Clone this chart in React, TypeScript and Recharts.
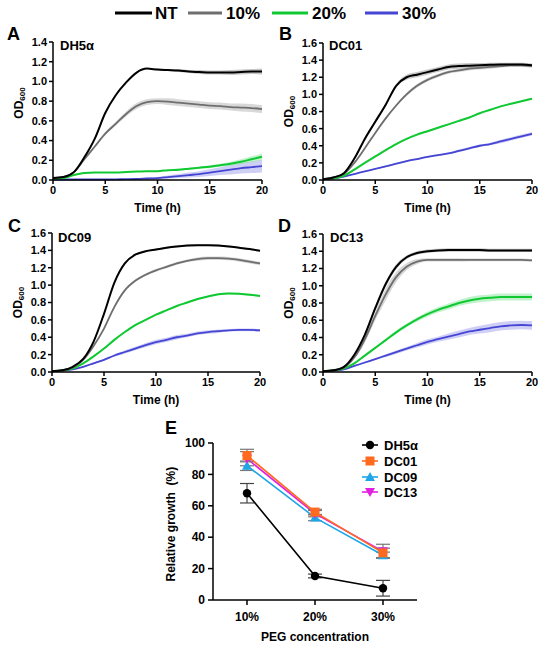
import React from 'react';
import { ComposedChart, LineChart, Line, Area, XAxis, YAxis, ErrorBar } from 'recharts';

const FONT = 'Arial, "Liberation Sans", Helvetica, sans-serif';

const TIME = [0, 1, 2, 3, 4, 5, 6, 7, 8, 9, 10, 11, 12, 13, 14, 15, 16, 17, 18, 19, 20];
const TIME_TICKS = [0, 5, 10, 15, 20];
const OD_TICKS_14 = [0, 0.2, 0.4, 0.6, 0.8, 1.0, 1.2, 1.4];
const OD_TICKS_16 = [0, 0.2, 0.4, 0.6, 0.8, 1.0, 1.2, 1.4, 1.6];

// Panel A – DH5α
const A_NT = [0.02, 0.03, 0.08, 0.23, 0.42, 0.68, 0.86, 0.99, 1.09, 1.13, 1.12, 1.115, 1.11, 1.1, 1.095, 1.09, 1.09, 1.09, 1.095, 1.1, 1.1];
const A_10 = [0.02, 0.03, 0.08, 0.21, 0.34, 0.47, 0.57, 0.67, 0.75, 0.79, 0.8, 0.795, 0.785, 0.775, 0.765, 0.755, 0.75, 0.74, 0.735, 0.73, 0.72];
const A_20 = [0.01, 0.02, 0.05, 0.07, 0.075, 0.075, 0.075, 0.08, 0.085, 0.09, 0.09, 0.1, 0.105, 0.115, 0.125, 0.135, 0.15, 0.165, 0.185, 0.21, 0.235];
const A_30 = [0.005, 0.005, 0.005, 0.005, 0.005, 0.005, 0.007, 0.008, 0.01, 0.015, 0.02, 0.03, 0.04, 0.05, 0.06, 0.075, 0.09, 0.105, 0.12, 0.13, 0.14];
const A_NT_SD = [0, 0, 0, 0, 0.01, 0.01, 0.01, 0.01, 0.01, 0.005, 0.01, 0.01, 0.015, 0.015, 0.02, 0.02, 0.02, 0.025, 0.025, 0.025, 0.03];
const A_10_SD = [0, 0, 0, 0.01, 0.01, 0.015, 0.02, 0.025, 0.03, 0.03, 0.03, 0.035, 0.035, 0.035, 0.035, 0.035, 0.035, 0.035, 0.04, 0.04, 0.04];
const A_20_SD = [0, 0, 0, 0, 0, 0, 0, 0, 0, 0.005, 0.005, 0.005, 0.01, 0.01, 0.01, 0.015, 0.015, 0.02, 0.025, 0.03, 0.035];
const A_30_SD = [0, 0, 0, 0, 0, 0, 0, 0, 0.005, 0.01, 0.01, 0.015, 0.02, 0.025, 0.03, 0.035, 0.04, 0.05, 0.055, 0.06, 0.065];

// Panel B – DC01
const B_NT = [0.01, 0.03, 0.08, 0.25, 0.48, 0.68, 0.88, 1.1, 1.2, 1.23, 1.26, 1.29, 1.32, 1.33, 1.335, 1.34, 1.345, 1.35, 1.35, 1.35, 1.34];
const B_10 = [0.01, 0.03, 0.07, 0.2, 0.37, 0.55, 0.72, 0.87, 1.0, 1.1, 1.17, 1.22, 1.26, 1.28, 1.3, 1.31, 1.32, 1.33, 1.34, 1.34, 1.33];
const B_20 = [0.01, 0.02, 0.05, 0.12, 0.2, 0.275, 0.35, 0.42, 0.48, 0.53, 0.57, 0.61, 0.65, 0.69, 0.73, 0.78, 0.82, 0.86, 0.89, 0.92, 0.95];
const B_30 = [0.01, 0.02, 0.04, 0.07, 0.1, 0.13, 0.16, 0.19, 0.22, 0.245, 0.27, 0.29, 0.31, 0.34, 0.37, 0.4, 0.42, 0.45, 0.48, 0.51, 0.54];
const B_NT_SD = [0, 0, 0, 0.01, 0.01, 0.02, 0.02, 0.02, 0.03, 0.03, 0.03, 0.03, 0.03, 0.03, 0.03, 0.025, 0.025, 0.02, 0.02, 0.02, 0.02];
const B_10_SD = [0, 0, 0, 0.01, 0.01, 0.01, 0.015, 0.015, 0.02, 0.02, 0.02, 0.02, 0.02, 0.02, 0.02, 0.02, 0.02, 0.02, 0.02, 0.02, 0.02];
const B_20_SD = [0, 0, 0, 0.005, 0.005, 0.01, 0.01, 0.01, 0.01, 0.01, 0.01, 0.01, 0.01, 0.01, 0.01, 0.01, 0.01, 0.01, 0.01, 0.01, 0.01];
const B_30_SD = [0, 0, 0, 0.005, 0.005, 0.005, 0.01, 0.01, 0.01, 0.01, 0.01, 0.01, 0.01, 0.015, 0.015, 0.015, 0.015, 0.02, 0.02, 0.02, 0.02];

// Panel C – DC09
const C_NT = [0.01, 0.02, 0.06, 0.15, 0.35, 0.67, 1.03, 1.25, 1.35, 1.39, 1.41, 1.43, 1.445, 1.455, 1.46, 1.46, 1.455, 1.445, 1.43, 1.415, 1.395];
const C_10 = [0.01, 0.02, 0.05, 0.14, 0.3, 0.5, 0.75, 0.94, 1.05, 1.12, 1.17, 1.21, 1.25, 1.28, 1.3, 1.31, 1.31, 1.305, 1.29, 1.27, 1.25];
const C_20 = [0.01, 0.02, 0.04, 0.1, 0.18, 0.27, 0.37, 0.46, 0.54, 0.6, 0.66, 0.71, 0.76, 0.8, 0.84, 0.87, 0.895, 0.905, 0.9, 0.89, 0.875];
const C_30 = [0.01, 0.015, 0.03, 0.06, 0.1, 0.14, 0.19, 0.23, 0.27, 0.31, 0.345, 0.37, 0.4, 0.42, 0.445, 0.46, 0.47, 0.48, 0.485, 0.485, 0.48];
const C_NT_SD = [0, 0, 0, 0.01, 0.01, 0.01, 0.01, 0.01, 0.01, 0.01, 0.01, 0.01, 0.01, 0.01, 0.01, 0.01, 0.01, 0.01, 0.01, 0.01, 0.01];
const C_10_SD = [0, 0, 0, 0.01, 0.01, 0.01, 0.015, 0.015, 0.015, 0.015, 0.015, 0.015, 0.015, 0.015, 0.02, 0.02, 0.02, 0.02, 0.02, 0.02, 0.02];
const C_20_SD = [0, 0, 0, 0.005, 0.005, 0.01, 0.01, 0.01, 0.01, 0.01, 0.01, 0.01, 0.01, 0.01, 0.01, 0.01, 0.01, 0.01, 0.01, 0.01, 0.01];
const C_30_SD = [0, 0, 0, 0.005, 0.01, 0.01, 0.015, 0.02, 0.02, 0.025, 0.025, 0.025, 0.025, 0.02, 0.02, 0.02, 0.02, 0.015, 0.015, 0.015, 0.015];

// Panel D – DC13
const D_NT = [0.01, 0.02, 0.06, 0.2, 0.43, 0.74, 1.02, 1.22, 1.33, 1.38, 1.4, 1.41, 1.415, 1.415, 1.415, 1.415, 1.41, 1.41, 1.41, 1.41, 1.41];
const D_10 = [0.01, 0.02, 0.05, 0.17, 0.38, 0.65, 0.9, 1.1, 1.22, 1.28, 1.3, 1.3, 1.3, 1.3, 1.3, 1.3, 1.3, 1.3, 1.3, 1.3, 1.295];
const D_20 = [0.01, 0.02, 0.04, 0.1, 0.19, 0.28, 0.37, 0.46, 0.54, 0.61, 0.67, 0.72, 0.76, 0.8, 0.83, 0.85, 0.86, 0.87, 0.87, 0.87, 0.87];
const D_30 = [0.01, 0.015, 0.03, 0.07, 0.11, 0.15, 0.19, 0.23, 0.27, 0.31, 0.35, 0.38, 0.41, 0.44, 0.47, 0.49, 0.51, 0.53, 0.54, 0.545, 0.54];
const D_NT_SD = [0, 0, 0, 0.01, 0.02, 0.03, 0.03, 0.03, 0.02, 0.02, 0.02, 0.02, 0.02, 0.02, 0.02, 0.02, 0.02, 0.02, 0.02, 0.02, 0.02];
const D_10_SD = [0, 0, 0, 0.02, 0.04, 0.05, 0.07, 0.06, 0.04, 0.03, 0.02, 0.02, 0.02, 0.02, 0.015, 0.015, 0.015, 0.015, 0.015, 0.015, 0.015];
const D_20_SD = [0, 0, 0, 0.005, 0.01, 0.01, 0.015, 0.02, 0.02, 0.025, 0.03, 0.03, 0.035, 0.035, 0.04, 0.04, 0.04, 0.04, 0.04, 0.04, 0.04];
const D_30_SD = [0, 0, 0, 0.005, 0.01, 0.01, 0.015, 0.02, 0.02, 0.025, 0.03, 0.03, 0.035, 0.04, 0.04, 0.045, 0.05, 0.05, 0.05, 0.05, 0.05];

// Panel E – relative growth
const PEG_X = [1, 2, 3];
const PEG_LABELS = ['10%', '20%', '30%'];
const E_DH5A = [68, 15.3, 7.5];
const E_DH5A_SD = [6.2, 1.2, 5];
const E_DC01 = [92, 56, 30];
const E_DC01_SD = [4, 1.8, 3];
const E_DC09 = [85.5, 52.5, 28.5];
const E_DC09_SD = [3, 2, 2];
const E_DC13 = [90, 55, 31];
const E_DC13_SD = [4.5, 2, 4.5];
const E_TICKS = [0, 20, 40, 60, 80, 100];

const SERIES = [
  { key: 'nt', name: 'NT', color: '#000000', band: '#9a9a9a', width: 2 },
  { key: 'p10', name: '10%', color: '#6e6e6e', band: '#b8b8b8', width: 1.8 },
  { key: 'p20', name: '20%', color: '#10c932', band: '#8fe8a0', width: 2 },
  { key: 'p30', name: '30%', color: '#4545d4', band: '#a8a8ee', width: 1.8 },
];

function buildRows(means: number[][], sds: number[][]) {
  return TIME.map((t, i) => {
    const row: any = { t };
    SERIES.forEach((s, j) => {
      const m = means[j][i];
      const e = sds[j][i];
      row[s.key] = m;
      row[s.key + 'Band'] = [m - e, m + e];
    });
    return row;
  });
}

const ROWS_A = buildRows([A_NT, A_10, A_20, A_30], [A_NT_SD, A_10_SD, A_20_SD, A_30_SD]);
const ROWS_B = buildRows([B_NT, B_10, B_20, B_30], [B_NT_SD, B_10_SD, B_20_SD, B_30_SD]);
const ROWS_C = buildRows([C_NT, C_10, C_20, C_30], [C_NT_SD, C_10_SD, C_20_SD, C_30_SD]);
const ROWS_D = buildRows([D_NT, D_10, D_20, D_30], [D_NT_SD, D_10_SD, D_20_SD, D_30_SD]);

const ROWS_E = PEG_X.map((x, i) => ({
  x,
  dh5a: E_DH5A[i], dh5aSd: E_DH5A_SD[i],
  dc01: E_DC01[i], dc01Sd: E_DC01_SD[i],
  dc09: E_DC09[i], dc09Sd: E_DC09_SD[i],
  dc13: E_DC13[i], dc13Sd: E_DC13_SD[i],
}));

const tickStyle = { fill: '#000', fontSize: 11, fontWeight: 700, fontFamily: FONT };

function makeOdLabel(dy: number) {
  return (props: any) => {
    const vb = props.viewBox || { x: 0, y: 0, width: 0, height: 0 };
    const cx = vb.x + 6;
    const cy = vb.y + vb.height / 2 + dy;
    return (
      <text
        x={cx}
        y={cy}
        transform={`rotate(-90 ${cx} ${cy})`}
        textAnchor="middle"
        dominantBaseline="central"
        fontFamily={FONT}
        fontWeight={700}
        fontSize={12}
        fill="#000"
      >
        OD<tspan fontSize={8} dy={3}>600</tspan>
      </text>
    );
  };
}

type PanelProps = {
  rows: any[];
  left: number;
  top: number;
  width: number;
  height: number;
  margin: { top: number; right: number; bottom: number; left: number };
  yMax: number;
  yTicks: number[];
  labelDy: number;
};

function GrowthPanel(p: PanelProps) {
  return (
    <div style={{ position: 'absolute', left: p.left, top: p.top, width: p.width, height: p.height }}>
      <ComposedChart width={p.width} height={p.height} data={p.rows} margin={p.margin}>
        <XAxis
          dataKey="t"
          type="number"
          domain={[0, 20]}
          ticks={TIME_TICKS}
          interval={0}
          height={30}
          stroke="#000"
          strokeWidth={1.5}
          tickSize={4}
          tick={tickStyle}
          label={{ value: 'Time (h)', position: 'insideBottom', offset: -2, fill: '#000', fontSize: 12, fontWeight: 700, fontFamily: FONT }}
        />
        <YAxis
          type="number"
          domain={[0, p.yMax]}
          ticks={p.yTicks}
          interval={0}
          width={40}
          stroke="#000"
          strokeWidth={1.5}
          tickSize={4}
          tick={tickStyle}
          tickFormatter={(v: number) => v.toFixed(1)}
          label={{ content: makeOdLabel(p.labelDy) } as any}
        />
        {SERIES.slice().reverse().map((s) => (
          <Area
            key={s.key + 'Band'}
            dataKey={s.key + 'Band'}
            type="monotone"
            stroke="none"
            fill={s.band}
            fillOpacity={0.55}
            isAnimationActive={false}
            activeDot={false}
          />
        ))}
        {SERIES.slice().reverse().map((s) => (
          <Line
            key={s.key}
            dataKey={s.key}
            type="monotone"
            stroke={s.color}
            strokeWidth={s.width}
            dot={false}
            activeDot={false}
            isAnimationActive={false}
          />
        ))}
      </ComposedChart>
    </div>
  );
}

const E_SERIES = [
  { key: 'dh5a', name: 'DH5α', color: '#000000', shape: 'circle' },
  { key: 'dc09', name: 'DC09', color: '#1ea6e6', shape: 'triangle' },
  { key: 'dc13', name: 'DC13', color: '#e21fe0', shape: 'tridown' },
  { key: 'dc01', name: 'DC01', color: '#ff6a1f', shape: 'square' },
];
const E_LEGEND_ORDER = ['dh5a', 'dc01', 'dc09', 'dc13'];

function Marker({ cx, cy, shape, color }: { cx: number; cy: number; shape: string; color: string }) {
  if (shape === 'circle') return <circle cx={cx} cy={cy} r={4.2} fill={color} />;
  if (shape === 'square') return <rect x={cx - 4.5} y={cy - 4.5} width={9} height={9} fill={color} />;
  if (shape === 'triangle')
    return <polygon points={`${cx},${cy - 5} ${cx - 5},${cy + 4} ${cx + 5},${cy + 4}`} fill={color} />;
  return <polygon points={`${cx},${cy + 5} ${cx - 5},${cy - 4} ${cx + 5},${cy - 4}`} fill={color} />;
}

function PanelE() {
  return (
    <div style={{ position: 'absolute', left: 150, top: 420, width: 290, height: 225 }}>
      <LineChart width={290} height={225} data={ROWS_E} margin={{ top: 23, right: 23, bottom: 15, left: 21 }}>
        <XAxis
          dataKey="x"
          type="number"
          domain={[0.5, 3.5]}
          ticks={PEG_X}
          interval={0}
          height={30}
          stroke="#000"
          strokeWidth={1.5}
          tickSize={5}
          tickMargin={7}
          tick={{ ...tickStyle, fontSize: 12 }}
          tickFormatter={(v: number) => PEG_LABELS[v - 1]}
          label={{ value: 'PEG concentration', position: 'insideBottom', offset: -11, fill: '#000', fontSize: 12, fontWeight: 700, fontFamily: FONT }}
        />
        <YAxis
          type="number"
          domain={[0, 100]}
          ticks={E_TICKS}
          interval={0}
          width={42}
          stroke="#000"
          strokeWidth={1.5}
          tickSize={5}
          tickMargin={3}
          tick={{ ...tickStyle, fontSize: 12 }}
          label={{ value: 'Relative growth\u00a0\u00a0(%)', angle: -90, position: 'insideLeft', offset: 0, dy: 60, fill: '#000', fontSize: 12, fontWeight: 700, fontFamily: FONT } as any}
        />
        {E_SERIES.map((s) => (
          <Line
            key={s.key}
            dataKey={s.key}
            type="linear"
            stroke={s.color}
            strokeWidth={1.6}
            isAnimationActive={false}
            activeDot={false}
            dot={(dp: any) => <Marker key={s.key + dp.index} cx={dp.cx} cy={dp.cy} shape={s.shape} color={s.color} />}
          >
            <ErrorBar dataKey={s.key + 'Sd'} width={7} stroke={s.key === 'dh5a' ? '#444' : '#777'} strokeWidth={1.2} direction="y" />
          </Line>
        ))}
      </LineChart>
    </div>
  );
}

function Overlay() {
  const legend = [
    { name: 'NT', color: '#000', x1: 115, x2: 152, tx: 155 },
    { name: '10%', color: '#6e6e6e', x1: 188, x2: 222, tx: 226 },
    { name: '20%', color: '#10c932', x1: 272, x2: 308, tx: 312 },
    { name: '30%', color: '#4545d4', x1: 365, x2: 398, tx: 402 },
  ];
  const letters = [
    { t: 'A', x: 7, y: 40 },
    { t: 'B', x: 279, y: 40 },
    { t: 'C', x: 8, y: 232 },
    { t: 'D', x: 278, y: 232 },
    { t: 'E', x: 165, y: 434 },
  ];
  const titles = [
    { t: 'DH5α', x: 60, y: 50 },
    { t: 'DC01', x: 329, y: 50 },
    { t: 'DC09', x: 58, y: 242 },
    { t: 'DC13', x: 330, y: 242 },
  ];
  const eRows = [445, 461, 477, 492];
  return (
    <svg width={550} height={645} style={{ position: 'absolute', left: 0, top: 0, pointerEvents: 'none' }}>
      {legend.map((l) => (
        <g key={l.name}>
          <line x1={l.x1} x2={l.x2} y1={13} y2={13} stroke={l.color} strokeWidth={3} />
          <text x={l.tx} y={19} fontFamily={FONT} fontWeight={700} fontSize={17} fill="#000">{l.name}</text>
        </g>
      ))}
      {letters.map((l) => (
        <text key={l.t} x={l.x} y={l.y} fontFamily={FONT} fontWeight={700} fontSize={18} fill="#000">{l.t}</text>
      ))}
      {titles.map((l) => (
        <text key={l.t} x={l.x} y={l.y} fontFamily={FONT} fontWeight={700} fontSize={13} fill="#000">{l.t}</text>
      ))}
      {E_LEGEND_ORDER.map((k, i) => {
        const s = E_SERIES.find((e) => e.key === k)!;
        const y = eRows[i];
        return (
          <g key={k}>
            <line x1={362} x2={378} y1={y} y2={y} stroke={s.color} strokeWidth={1.6} />
            <Marker cx={370} cy={y} shape={s.shape} color={s.color} />
            <text x={384} y={y + 4.5} fontFamily={FONT} fontWeight={700} fontSize={13} fill="#000">{s.name}</text>
          </g>
        );
      })}
    </svg>
  );
}

export default function App() {
  return (
    <div style={{ position: 'absolute', left: 0, top: 0, width: 550, height: 645, background: '#fff', fontFamily: FONT }}>
      <GrowthPanel rows={ROWS_A} left={0} top={30} width={275} height={190}
        margin={{ top: 12, right: 13, bottom: 10, left: 13 }} yMax={1.4} yTicks={OD_TICKS_14} labelDy={-8} />
      <GrowthPanel rows={ROWS_B} left={270} top={30} width={280} height={190}
        margin={{ top: 13, right: 18, bottom: 10, left: 13 }} yMax={1.6} yTicks={OD_TICKS_16} labelDy={0} />
      <GrowthPanel rows={ROWS_C} left={0} top={220} width={275} height={190}
        margin={{ top: 13, right: 15, bottom: 8, left: 12 }} yMax={1.6} yTicks={OD_TICKS_16} labelDy={0} />
      <GrowthPanel rows={ROWS_D} left={270} top={220} width={280} height={190}
        margin={{ top: 14, right: 18, bottom: 8, left: 13 }} yMax={1.6} yTicks={OD_TICKS_16} labelDy={0} />
      <PanelE />
      <Overlay />
    </div>
  );
}
